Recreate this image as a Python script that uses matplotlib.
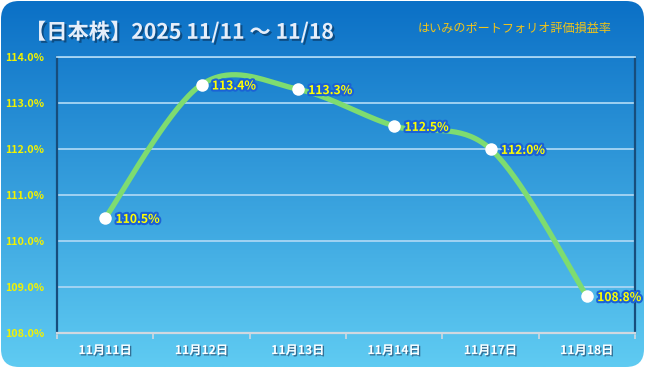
import numpy as np
import matplotlib.pyplot as plt
from matplotlib.patches import FancyBboxPatch
import matplotlib.patheffects as pe

plt.rcParams['font.family'] = ['Noto Sans CJK JP', 'DejaVu Sans']

# data
dates = ['11月11日', '11月12日', '11月13日', '11月14日', '11月17日', '11月18日']
values = [110.5, 113.4, 113.3, 112.5, 112.0, 108.8]
yticks = [108, 109, 110, 111, 112, 113, 114]
title = '【日本株】2025 11/11 ～ 11/18'
subtitle = 'はいみのポートフォリオ評価損益率'

W, H = 648, 368


def smooth(x, y, n=40):
    # bezier smoothing like excel "smoothed line"
    x = np.asarray(x, float)
    y = np.asarray(y, float)
    px = np.concatenate([[x[0]], x, [x[-1]]])
    py = np.concatenate([[y[0]], y, [y[-1]]])
    t = np.linspace(0, 1, n)
    xs, ys = [], []
    for i in range(1, len(px) - 2):
        p0x, p1x, p2x, p3x = px[i - 1], px[i], px[i + 1], px[i + 2]
        p0y, p1y, p2y, p3y = py[i - 1], py[i], py[i + 1], py[i + 2]
        c1x, c1y = p1x + (p2x - p0x) / 6, p1y + (p2y - p0y) / 6
        c2x, c2y = p2x - (p3x - p1x) / 6, p2y - (p3y - p1y) / 6
        b0, b1, b2, b3 = (1 - t) ** 3, 3 * (1 - t) ** 2 * t, 3 * (1 - t) * t ** 2, t ** 3
        xs.append(b0 * p1x + b1 * c1x + b2 * c2x + b3 * p2x)
        ys.append(b0 * p1y + b1 * c1y + b2 * c2y + b3 * p2y)
    return np.concatenate(xs), np.concatenate(ys)


fig = plt.figure(figsize=(W / 100, H / 100), dpi=100)
fig.patch.set_facecolor('white')

# background panel with gradient
bg = fig.add_axes([0, 0, 1, 1])
bg.set_xlim(0, W)
bg.set_ylim(0, H)
bg.axis('off')
top = np.array([11, 112, 198]) / 255
bot = np.array([95, 203, 242]) / 255
k = np.linspace(0, 1, 256)[:, None]
grad = (top * (1 - k) + bot * k)[:, None, :]
img = bg.imshow(grad, extent=[1, W - 4, 1, H - 1], aspect='auto', origin='upper', zorder=0)
frame = FancyBboxPatch((1, 1), W - 5, H - 2, boxstyle='round,pad=0,rounding_size=18',
                       facecolor='none', edgecolor='none', transform=bg.transData)
bg.add_patch(frame)
img.set_clip_path(frame)

# plot area
ax = fig.add_axes([57 / W, 35 / H, 578 / W, 276 / H])
ax.patch.set_alpha(0)
ax.set_xlim(-0.5, len(dates) - 0.5)
ax.set_ylim(yticks[0], yticks[-1])

for yv in yticks[1:]:
    ax.axhline(yv, color='#a8d6f4', lw=1.3, zorder=1)

xs, ys = smooth(range(len(values)), values)
ax.plot(xs, ys, color='#7edc70', lw=3.8, solid_capstyle='round', zorder=3)
ax.plot(range(len(values)), values, 'o', color='white', ms=9, mec='none', zorder=4)

for i, v in enumerate(values):
    ax.annotate(f'{v:.1f}%', (i, v), xytext=(7.5, -1), textcoords='offset points',
                ha='left', va='center', color='#ffff00', fontweight='bold', fontsize=8.7,
                path_effects=[pe.withStroke(linewidth=3, foreground='#1b62d6')], zorder=5)

ax.set_yticks(yticks)
ax.set_yticklabels([f'{t:.1f}%' for t in yticks], color='#f2f200', fontweight='bold', fontsize=7.7)
ax.tick_params(axis='y', length=0, pad=9)

ax.set_xticks(range(len(dates)))
ax.set_xticklabels(dates, color='white', fontweight='bold', fontsize=8.8)
for lab in ax.get_xticklabels():
    lab.set_path_effects([pe.withSimplePatchShadow(offset=(1, -1), shadow_rgbFace='#2a5a80', alpha=0.8)])
ax.set_xticks(np.arange(-0.5, len(dates)), minor=True)
ax.tick_params(axis='x', which='major', length=0, pad=8)
ax.tick_params(axis='x', which='minor', length=4, color='#d0d8e0', width=1.2, direction='out')

ax.spines['top'].set_color('#a8d6f4')
ax.spines['top'].set_linewidth(1.3)
ax.spines['left'].set_color('#174d7c')
ax.spines['left'].set_linewidth(1.6)
ax.spines['right'].set_color('#174d7c')
ax.spines['right'].set_linewidth(1.6)
ax.spines['bottom'].set_color('#d0d8e0')
ax.spines['bottom'].set_linewidth(1.6)

# titles
fig.text(25 / W, 1 - 32 / H, title, color='#e6eefa', fontsize=15.3, fontweight='bold',
         ha='left', va='center',
         path_effects=[pe.withSimplePatchShadow(offset=(1.5, -1.5), shadow_rgbFace='#0a3a66', alpha=0.7)])
fig.text(418 / W, 1 - 28 / H, subtitle, color='#f2c418', fontsize=8.7,
         ha='left', va='center')

fig.savefig('out.png', dpi=100, facecolor='white')
